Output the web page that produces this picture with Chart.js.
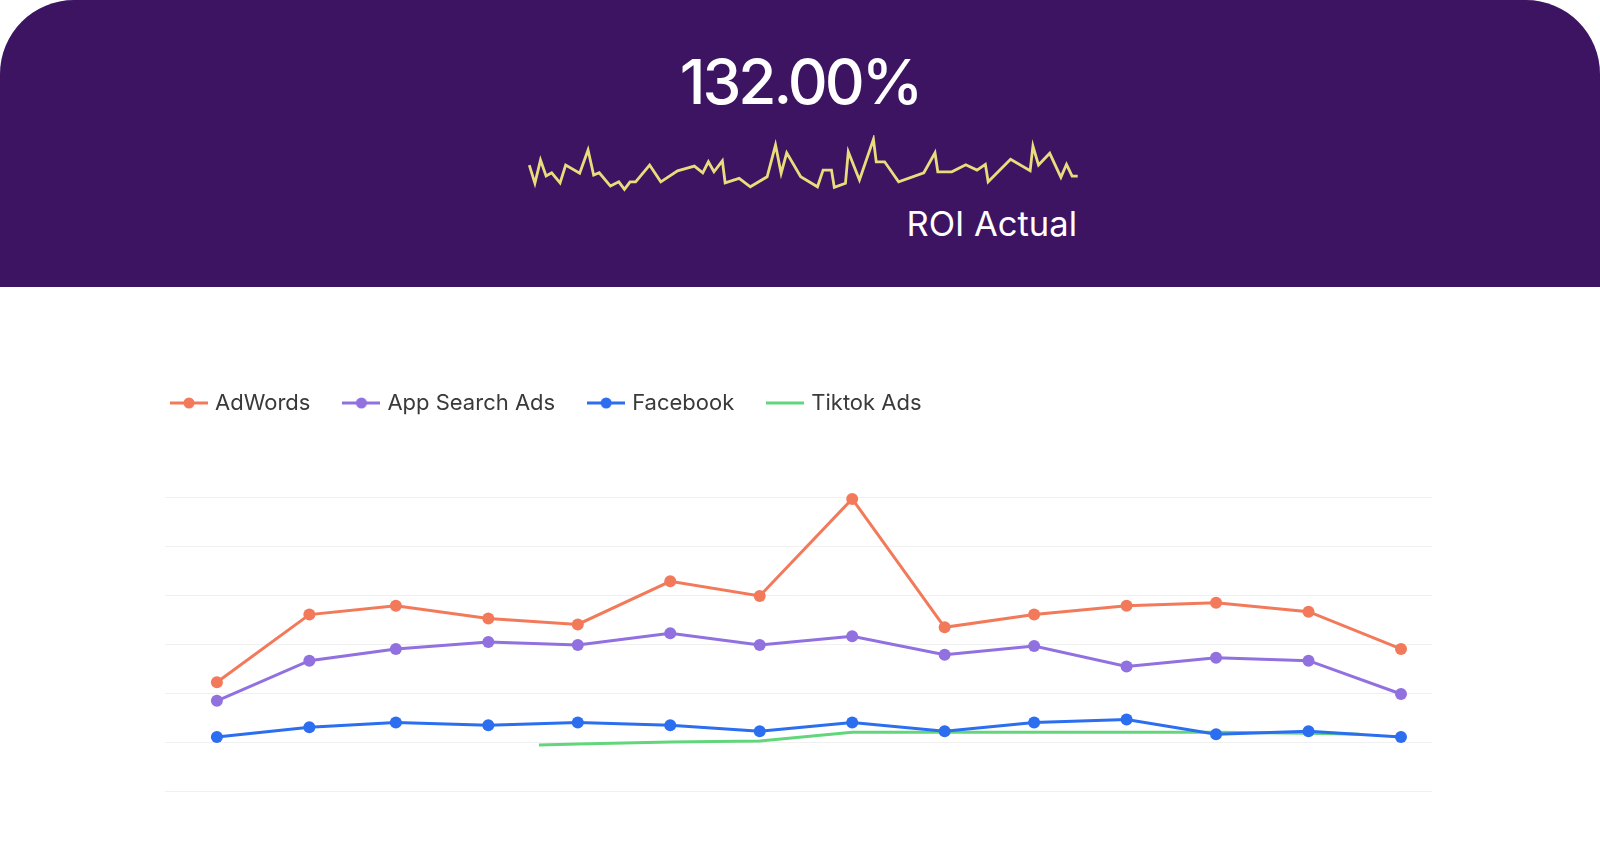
<!DOCTYPE html>
<html>
<head>
<meta charset="utf-8">
<script src="https://cdn.jsdelivr.net/npm/chart.js@4.4.1/dist/chart.umd.min.js"></script>
<style>
  html, body { margin: 0; padding: 0; background: #ffffff; }
  body { width: 1600px; height: 857px; position: relative; overflow: hidden; font-family: Inter, "Noto Sans", sans-serif; }
  .banner { position: absolute; left: 0; top: 0; width: 1600px; height: 287px; background: #3c1462; border-radius: 74px 74px 0 0; }
  .big { position: absolute; left: 0; width: 1600px; top: 51px; text-align: center; color: #fff; font-size: 62px; line-height: 62px; font-weight: 500; letter-spacing: -3px; }
  .sub { position: absolute; right: 523px; top: 207px; color: #fff; font-size: 34.5px; line-height: 34.5px; font-weight: 400; }
  #spark { position: absolute; left: 526px; top: 135px; }
  #chart { position: absolute; left: 138px; top: 356px; }
</style>
</head>
<body>
<div class="banner">
  <div class="big">132.00%</div>
  <canvas id="spark" width="555" height="58"></canvas>
  <div class="sub">ROI Actual</div>
</div>
<canvas id="chart" width="1294" height="438"></canvas>
<script>
// sparkline (ROI actual, daily index)
const sparkIdx = [0,2,4,6,8,11,13,18,21,23,25,29,32,34,36,38,43,47,53,59,62,64,66,69,70,75,79,85,88,90,92,97,103,105,108,109,113,114,118,123,124,127,132,141,145,146,151,156,160,163,164,172,179,180,182,186,190,192,194,196];
const sparkVal = [120,47,140,76,89,49,120,87,180,80,89,36,53,23,53,53,120,53,97,116,89,133,93,137,49,67,33,73,200,87,169,73,33,100,100,31,47,173,60,223,133,133,53,89,169,93,93,121,100,123,53,143,97,196,120,167,71,123,76,76];

// main chart
const months = ["2024-01-01","2024-02-01","2024-03-01","2024-04-01","2024-05-01","2024-06-01","2024-07-01","2024-08-01","2024-09-01","2024-10-01","2024-11-01","2024-12-01","2025-01-01","2025-02-01"];
const adWords = [111, 180, 189, 176, 170, 214, 199, 298, 167, 180, 189, 192, 183, 145];
const appSearchAds = [92, 133, 145, 152, 149, 161, 149, 158, 139, 148, 127, 136, 133, 99];
const facebook = [55, 65, 70, 67, 70, 67, 61, 70, 61, 70, 73, 58, 61, 55];
const tiktokDates = ["2024-04-18","2024-05-01","2024-06-01","2024-07-01","2024-08-01","2024-09-01","2024-10-01","2024-11-01","2024-12-01","2025-01-01","2025-01-18"];
const tiktokAds = [47, 48, 50, 51, 60, 60, 60, 60, 60, 59, 58];

const seriesNames = ["AdWords", "App Search Ads", "Facebook", "Tiktok Ads"];
const seriesColors = ["#f27a5a", "#9170e0", "#2b6ef0", "#62d67a"];

function dayOf(s) {
  const [y, m, d] = s.split("-").map(Number);
  return (Date.UTC(y, m - 1, d) - Date.UTC(2024, 0, 1)) / 86400000;
}
function pts(dates, vals) {
  return vals.map((v, i) => ({ x: dayOf(dates[i]), y: v }));
}

Chart.defaults.font.family = "Inter, 'Noto Sans', sans-serif";
Chart.defaults.animation = false;

new Chart(document.getElementById("spark"), {
  type: "line",
  data: {
    datasets: [{
      data: sparkVal.map((v, i) => ({ x: sparkIdx[i], y: v })),
      borderColor: "#e9dc7c",
      borderWidth: 2.8,
      pointRadius: 0,
      tension: 0,
      clip: false,
    }],
  },
  options: {
    responsive: false,
    layout: { autoPadding: false, padding: { left: 3.3, right: 3.3, top: 4.3, bottom: 3.7 } },
    plugins: { legend: { display: false }, tooltip: { enabled: false } },
    scales: {
      x: { type: "linear", display: false, min: 0, max: Math.max(...sparkIdx) },
      y: { display: false, min: Math.min(...sparkVal), max: Math.max(...sparkVal) },
    },
  },
});

function legendIcon(color, dot) {
  const c = document.createElement("canvas");
  c.width = 38;
  c.height = 14;
  const g = c.getContext("2d");
  g.strokeStyle = color;
  g.lineWidth = 3;
  g.beginPath();
  g.moveTo(0, 7);
  g.lineTo(38, 7);
  g.stroke();
  if (dot) {
    g.fillStyle = color;
    g.beginPath();
    g.arc(19, 7, 5.5, 0, Math.PI * 2);
    g.fill();
  }
  return c;
}

const legendGap = {
  id: "legendGap",
  afterInit(chart) {
    const fit = chart.legend.fit;
    chart.legend.fit = function () {
      fit.call(this);
      this.height += 73;
    };
  },
};

function lineSet(i, data, dots) {
  return {
    label: seriesNames[i],
    data: data,
    borderColor: seriesColors[i],
    backgroundColor: seriesColors[i],
    borderWidth: 3,
    pointRadius: dots ? 6 : 0,
    pointBorderWidth: 0,
    tension: 0,
    clip: false,
  };
}

new Chart(document.getElementById("chart"), {
  type: "line",
  data: {
    datasets: [
      lineSet(0, pts(months, adWords), true),
      lineSet(1, pts(months, appSearchAds), true),
      lineSet(2, pts(months, facebook), true),
      lineSet(3, pts(tiktokDates, tiktokAds), false),
    ],
  },
  options: {
    responsive: false,
    layout: { autoPadding: false, padding: { left: 0, right: 0, top: 0, bottom: 3 } },
    plugins: {
      tooltip: { enabled: false },
      legend: {
        position: "top",
        align: "start",
        labels: {
          usePointStyle: true,
          pointStyleWidth: 30,
          padding: 36,
          color: "#3a3a3a",
          font: { size: 22 },
          generateLabels(chart) {
            const items = Chart.defaults.plugins.legend.labels.generateLabels(chart);
            items.forEach((it, i) => {
              it.pointStyle = legendIcon(seriesColors[i], i < 3);
            });
            return items;
          },
        },
      },
    },
    scales: {
      x: { type: "linear", display: false, min: -17.4, max: 407.4 },
      y: {
        min: 0,
        max: 300,
        ticks: { display: false, stepSize: 50 },
        grid: { color: "#f0f0f0", drawTicks: false },
        border: { display: false },
        afterFit(s) { s.width = 27; },
      },
    },
  },
  plugins: [legendGap],
});
</script>
</body>
</html>
